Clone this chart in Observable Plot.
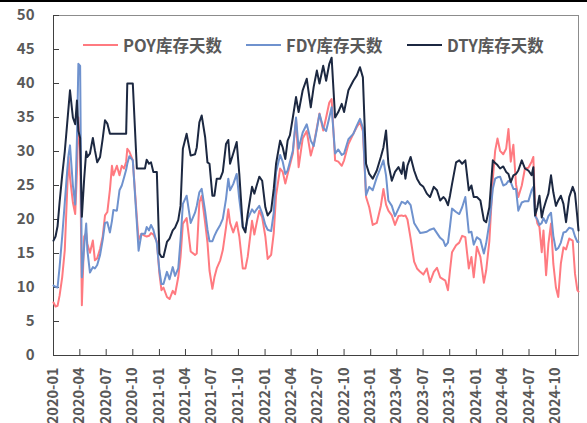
<!DOCTYPE html>
<html>
<head>
<meta charset="utf-8">
<script src="https://cdn.jsdelivr.net/npm/d3@7"></script>
<script src="https://cdn.jsdelivr.net/npm/@observablehq/plot@0.6"></script>
<style>
  body { margin: 0; background: #fff; }
  #wrap { position: relative; width: 587px; height: 423px; overflow: hidden; background: #fff;
          font-family: "Noto Sans CJK SC", "Liberation Sans", sans-serif; }
  #topbar { position: absolute; left: 0; top: 0; width: 587px; height: 2px; background: #000; z-index: 2; }
  .item { position: absolute; top: 34px; height: 22px; display: flex; align-items: center;
          font-weight: bold; font-size: 16.5px; color: #595959; white-space: nowrap; z-index: 2; }
  .sw { width: 35px; height: 2px; margin-right: 5px; }
  svg { display: block; }
</style>
</head>
<body>
<div id="wrap">
  <div id="topbar"></div>
  <div id="chart"></div>
</div>
<script>
const seriesNames = ["POY库存天数", "FDY库存天数", "DTY库存天数"];
const seriesColors = ["#FF7A80", "#6F92CE", "#1C2841"];
const yTicks = [0, 5, 10, 15, 20, 25, 30, 35, 40, 45, 50];
const xTickLabels = ["2020-01","2020-04","2020-07","2020-10","2021-01","2021-04","2021-07","2021-10",
  "2022-01","2022-04","2022-07","2022-10","2023-01","2023-04","2023-07","2023-10",
  "2024-01","2024-04","2024-07","2024-10"];

const dates = [
"2020-01-01","2020-01-08","2020-01-15","2020-01-22","2020-01-31","2020-02-09","2020-02-17","2020-02-22","2020-02-27","2020-03-08",
"2020-03-16","2020-03-22","2020-03-27","2020-04-02","2020-04-08","2020-04-16","2020-04-23","2020-04-27","2020-05-06","2020-05-16",
"2020-05-23","2020-05-31","2020-06-10","2020-06-19","2020-06-27","2020-07-05","2020-07-14","2020-07-21","2020-07-26","2020-08-07",
"2020-08-16","2020-08-24","2020-09-01","2020-09-08","2020-09-12","2020-09-19","2020-10-01","2020-10-15","2020-10-21","2020-10-31",
"2020-11-12","2020-11-18","2020-11-26","2020-12-03","2020-12-11","2020-12-23","2021-01-01","2021-01-08","2021-01-15","2021-01-27",
"2021-02-05","2021-02-16","2021-02-24","2021-03-07","2021-03-15","2021-03-23","2021-04-05","2021-04-19","2021-05-04","2021-05-10",
"2021-05-19","2021-05-27","2021-06-08","2021-06-16","2021-06-23","2021-07-03","2021-07-10","2021-07-18","2021-07-30","2021-08-08",
"2021-08-19","2021-08-27","2021-09-02","2021-09-13","2021-09-25","2021-10-04","2021-10-16","2021-10-25","2021-11-02","2021-11-17",
"2021-11-25","2021-12-03","2021-12-12","2021-12-22","2022-01-02","2022-01-10","2022-01-22","2022-01-31","2022-02-08","2022-02-22",
"2022-03-03","2022-03-12","2022-03-20","2022-03-28","2022-04-07","2022-04-18","2022-04-27","2022-05-11","2022-05-25","2022-06-08",
"2022-06-18","2022-06-29","2022-07-08","2022-07-21","2022-07-31","2022-08-11","2022-08-19","2022-08-31","2022-09-11","2022-09-23",
"2022-10-01","2022-10-16","2022-11-02","2022-11-14","2022-11-25","2022-12-05","2022-12-16","2022-12-27","2023-01-08","2023-01-22",
"2023-02-05","2023-02-14","2023-02-23","2023-03-03","2023-03-15","2023-03-26","2023-04-07","2023-04-18","2023-04-24","2023-05-01",
"2023-05-08","2023-05-19","2023-05-31","2023-06-10","2023-06-21","2023-07-02","2023-07-14","2023-07-25","2023-08-07","2023-08-18",
"2023-08-29","2023-09-09","2023-09-16","2023-09-25","2023-10-02","2023-10-09","2023-10-23","2023-11-03","2023-11-13","2023-11-24",
"2023-12-06","2023-12-15","2023-12-23","2024-01-03","2024-01-15","2024-01-27","2024-02-04","2024-02-15","2024-02-27","2024-03-06",
"2024-03-14","2024-03-23","2024-04-03","2024-04-13","2024-04-21","2024-04-29","2024-05-08","2024-05-17","2024-05-25","2024-06-06",
"2024-06-17","2024-06-29","2024-07-10","2024-07-16","2024-07-22","2024-07-30","2024-08-06","2024-08-14","2024-08-20","2024-08-29",
"2024-09-06","2024-09-15","2024-09-23","2024-10-02","2024-10-10","2024-10-19","2024-10-28","2024-11-06","2024-11-17","2024-11-29",
"2024-12-07","2024-12-15","2024-12-19"
];

const dty = [
16.9,17.5,19,22.5,26.5,30,34,36.5,39,35,
34,37.5,33,32,20.4,26,30,29.2,29.7,32,
30.2,28.4,29.2,31.9,34.6,34.1,32.6,32.6,32.6,32.6,
32.6,32.6,32.6,32.6,40,40,40,27.5,27.5,27.5,
27.5,28.8,28.2,28.4,27,27,15,14.5,14.5,16.7,
17.2,18.4,18.8,19.9,22,30.4,32.6,29.4,29.6,30.6,
34.3,35.3,32.1,28.4,28.2,23.5,23.5,26,26,27,
31.1,31.7,28.2,29.7,31.4,26.7,18.9,18.1,20.8,24.8,
23.8,25,26.3,25.7,21.8,20.6,21.3,24.5,28.2,31.6,
30.6,28.9,31.6,32.4,35,38,35.8,39,40.7,36.5,
39.5,41.9,40,42.6,40.4,42.9,43.8,35,35.8,37,
35.8,39,40.4,41.2,42.4,40.9,28.2,26.7,26,27.2,
29.2,30.6,33.1,28.2,25.7,27,27.7,26.7,28.4,26,
27.9,29.2,27.2,26,25.2,24.8,23.8,23.3,24.8,24.3,
22.8,23.3,23,22.1,23.5,25.2,28.4,28.7,28.2,28.7,
24.3,25,23.3,23.3,22.8,19.9,19.6,21.8,28.7,28.3,
28,27.5,27.8,27,26.7,25.5,26.5,26.7,27.2,28.7,
27.5,27.2,26.5,27.7,20.6,21.8,23.5,20.3,21.5,22.8,
23.8,26.5,24,22,22.8,23.5,22.3,19.6,23.3,24.8,
23.8,20.3,18.4
];

const fdy = [
10.3,10.1,10,13,17.5,22.5,27,29.5,30.9,25,
22.2,32,42.9,42.6,11.5,16,19.4,15.5,12.2,13,
12.8,13.3,14.8,17,19.5,19.6,18.1,19.8,21.4,21.3,
24.3,25,26.2,27.3,28.2,29.3,28.7,19.5,15.4,17.9,
17.9,18.9,18.4,19.2,18.5,16.5,12.5,10.5,10.5,12.3,
11.2,13,11.7,12.8,17,22.3,23.5,19.5,21,22,
24,24.5,21.2,18.5,16.8,16.8,17.6,18.3,19.2,20.1,
23,26,24.3,25.2,26.7,23,18.9,18.6,20.1,21.5,
21,21.5,22,20.9,19.2,18.5,18.3,21,27,29.5,
28.5,26.7,27.2,28.5,30.1,35,30.4,32.8,34,31.6,
30.8,33.3,35.5,33.5,33,35,36.5,29.7,30.3,29.5,
29.7,31.8,32.6,33.8,34.8,33.5,23.6,24.8,24.3,26.2,
27.7,28.7,26.5,22.8,22,20.5,21.6,22.6,22.5,22.3,
22.7,22.1,19.5,18.8,18,18.1,18.2,18.5,18.7,18,
17.3,16.9,16.1,16.6,19,21.6,21.1,20.8,21.8,23.3,
18.1,18.2,16.3,17.4,17,15,16.5,19.5,24.5,26,
26.2,26.3,25,25.2,25.7,25.5,24.5,24.5,21.3,22.5,
22.7,22.7,24.3,24.8,20.5,20,19.2,19.5,20.2,19.5,
20.5,21,17.6,15.5,15.8,16.6,18.1,18.2,18.8,18.6,
17.5,16.7,16.7
];

const poy = [
7.8,7.2,7.3,8.8,11.5,15.5,24,29.2,26.2,22.5,
20.8,27,35,30,7.4,17.5,18,16.4,15.1,16.9,
14,14.3,15.7,17.5,20.6,21.1,24.4,27.9,26.5,27.9,
26.5,27.9,27.5,28.5,30.4,30,28.7,20.3,17,17.9,
17.6,17.5,17.6,18,17.8,16.8,12,9.6,10,8.6,
8.3,9.5,9,11.5,14.5,19.4,20.2,15.3,14.8,15,
22.5,23.5,19.5,16.6,12.5,9.8,11.5,12.8,14,15.5,
18.8,21.5,19.5,18.1,19.6,17.5,12.8,12.8,14.5,19.8,
17.8,19.5,21.3,20.3,17.5,14.2,14.8,18,23.5,27.5,
27,25.3,26.7,28,29.7,34.8,27.7,31.9,33,29.4,
31,33.5,35.6,33.1,35,37.2,37.7,28.7,28.5,27.9,
28.7,31.1,32.6,33.6,34.3,33,23.3,21.8,19.2,19.5,
22,24.5,22.2,21.3,20.6,19.2,20.5,20.6,20.5,20.6,
20,17.2,13.8,12.8,12.3,11.9,12.8,10.8,12.3,12.9,
11.5,11.2,11,9.6,12.5,15.2,16.2,16.6,17.6,17.4,
12.8,14.5,11.5,16,14.5,10.7,12.5,16.8,26,30.1,
31.9,30.1,29.6,30.4,33.3,28.5,31,25.2,23.3,25,
27.5,27.6,28.5,29.2,21.3,19.4,18.9,15.2,18.4,11.8,
16.4,19.4,13.5,10,8.6,13.5,15.9,15.6,17.2,16.9,
12,9.6,9.4
];

const seriesValues = [poy, fdy, dty];
const rows = [];
seriesValues.forEach((vals, s) => {
  vals.forEach((v, i) => rows.push({date: new Date(dates[i]), value: v, series: seriesNames[s]}));
});

const xStart = new Date("2020-01-01");
const xEnd = new Date("2024-12-19");
const xTicks = xTickLabels.map(s => new Date(s + "-01"));
const fontFam = '"Noto Sans CJK SC", "Liberation Sans", sans-serif';

const chart = Plot.plot({
  width: 587,
  height: 423,
  marginLeft: 53,
  marginRight: 9,
  marginTop: 15,
  marginBottom: 68,
  style: {fontFamily: fontFam, background: "white", color: "#595959", overflow: "visible"},
  x: {type: "utc", domain: [xStart, xEnd], label: null},
  y: {domain: [0, 50], label: null},
  marks: [
    Plot.frame({stroke: "#8c8c8c"}),
    Plot.axisY({ticks: yTicks, tickSize: 0, tickPadding: 19, fontSize: 15, fontWeight: "bold", fill: "#595959", label: null}),
    Plot.axisY({ticks: yTicks, tickSize: 6, dx: 6, fill: "none", stroke: "#404040", label: null}),
    Plot.axisX({ticks: xTicks, tickFormat: d3.utcFormat("%Y-%m"), tickRotate: -90, tickSize: 0, tickPadding: 12,
                fontSize: 14.5, fontWeight: "bold", fill: "#595959", label: null}),
    Plot.axisX({ticks: xTicks, tickSize: 6, dy: -6, fill: "none", stroke: "#404040", label: null}),
    Plot.ruleY([0], {stroke: "#404040"}),
    Plot.ruleX([xStart], {stroke: "#404040"}),
    ...seriesNames.map((name, s) =>
      Plot.line(rows.filter(r => r.series === name), {x: "date", y: "value", stroke: seriesColors[s], strokeWidth: 2})
    )
  ]
});
document.getElementById("chart").appendChild(chart);

// legend inside plot area
const legendLeft = [83, 246, 407];
const wrap = document.getElementById("wrap");
seriesNames.forEach((name, s) => {
  const it = document.createElement("div");
  it.className = "item";
  it.style.left = legendLeft[s] + "px";
  const sw = document.createElement("span");
  sw.className = "sw";
  sw.style.background = seriesColors[s];
  const tx = document.createElement("span");
  tx.textContent = name;
  it.appendChild(sw);
  it.appendChild(tx);
  wrap.appendChild(it);
});
</script>
</body>
</html>
